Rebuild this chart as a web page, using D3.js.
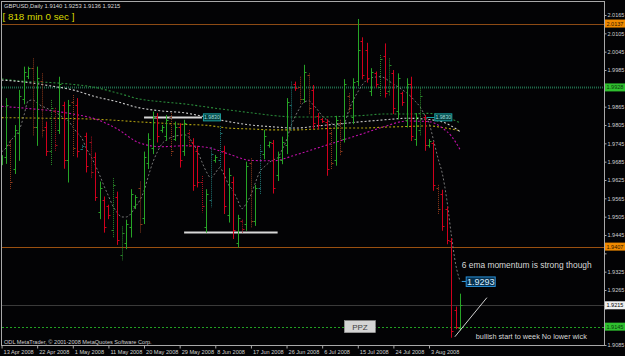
<!DOCTYPE html>
<html><head><meta charset="utf-8">
<script src="https://cdn.jsdelivr.net/npm/d3@7"></script>
<style>html,body{margin:0;padding:0;background:#000;}svg{display:block;}</style>
</head><body><svg id="c" width="625" height="356"></svg>
<script>
// ---------------- DATA ----------------
const symbol = "GBPUSD,Daily";
const lastQuote = [1.9140, 1.9253, 1.9136, 1.9215];
const timerText = "[ 818 min 0 sec ]";
const copyright = "ODL MetaTrader, \u00A9 2001-2008 MetaQuotes Software Corp.";

const opens = [1.9700,1.9740,1.9660,1.9780,1.9890,1.9965,1.9990,1.9800,1.9950,1.9800,
1.9720,1.9850,1.9790,1.9870,1.9690,1.9880,1.9870,1.9728,1.9770,1.9750,
1.9700,1.9520,1.9560,1.9540,1.9460,1.9570,1.9380,1.9420,1.9470,1.9540,
1.9600,1.9500,1.9680,1.9730,1.9830,1.9788,1.9770,1.9830,1.9760,1.9800,
1.9720,1.9780,1.9750,1.9720,1.9620,1.9470,1.9560,1.9690,1.9690,1.9720,
1.9510,1.9620,1.9420,1.9490,1.9480,1.9680,1.9490,1.9600,1.9710,1.9738,
1.9745,1.9640,1.9690,1.9740,1.9870,1.9940,1.9930,1.9890,1.9970,1.9920,
1.9835,1.9826,1.9815,1.9780,1.9690,1.9810,1.9760,1.9900,1.9830,1.9950,
2.0080,2.0050,1.9915,1.9975,1.9930,2.0030,1.9915,1.9975,1.9850,1.9910,
1.9820,1.9940,1.9760,1.9790,1.9830,1.9740,1.9745,1.9600,1.9580,1.9530,
1.9425,1.9200,1.9140];
const highs = [1.9893,1.9756,1.9805,1.9920,1.9996,1.9996,2.0023,1.9996,1.9974,1.9816,
1.9887,1.9861,1.9963,1.9881,1.9887,1.9903,1.9893,1.9740,1.9780,1.9767,
1.9715,1.9620,1.9571,1.9544,1.9631,1.9587,1.9473,1.9495,1.9595,1.9576,
1.9620,1.9718,1.9778,1.9849,1.9844,1.9805,1.9838,1.9844,1.9816,1.9811,
1.9822,1.9789,1.9762,1.9737,1.9638,1.9595,1.9732,1.9707,1.9802,1.9737,
1.9664,1.9636,1.9511,1.9495,1.9685,1.9696,1.9609,1.9740,1.9789,1.9751,
1.9756,1.9718,1.9767,1.9893,1.9947,1.9947,1.9963,2.0002,1.9974,1.9936,
1.9844,1.9828,1.9824,1.9795,1.9835,1.9822,1.9955,1.9909,1.9958,2.0152,
2.0092,2.0074,1.9991,1.9980,2.0034,2.0072,2.0023,1.9985,1.9974,1.9914,
1.9958,1.9963,1.9844,1.9925,1.9838,1.9759,1.9751,1.9609,1.9593,1.9538,
1.9435,1.9211,1.9253];
const lows = [1.9681,1.9599,1.9648,1.9691,1.9876,1.9959,1.9773,1.9740,1.9767,1.9707,
1.9675,1.9724,1.9779,1.9665,1.9620,1.9707,1.9702,1.9724,1.9653,1.9636,
1.9560,1.9500,1.9456,1.9500,1.9440,1.9416,1.9364,1.9402,1.9440,1.9533,
1.9456,1.9484,1.9664,1.9713,1.9751,1.9783,1.9756,1.9707,1.9756,1.9669,
1.9707,1.9734,1.9593,1.9604,1.9522,1.9456,1.9538,1.9685,1.9669,1.9517,
1.9489,1.9435,1.9407,1.9456,1.9462,1.9473,1.9478,1.9582,1.9696,1.9734,
1.9584,1.9625,1.9680,1.9713,1.9789,1.9920,1.9876,1.9881,1.9844,1.9795,
1.9795,1.9815,1.9642,1.9664,1.9675,1.9707,1.9751,1.9849,1.9811,1.9936,
1.9958,1.9947,1.9903,1.9931,1.9903,1.9898,1.9903,1.9844,1.9827,1.9871,
1.9800,1.9756,1.9740,1.9773,1.9724,1.9734,1.9593,1.9517,1.9462,1.9418,
1.9112,1.9140,1.9136];
const closes = [1.9870,1.9620,1.9790,1.9900,1.9980,1.9990,1.9800,1.9960,1.9790,1.9720,
1.9860,1.9740,1.9940,1.9690,1.9870,1.9730,1.9720,1.9736,1.9670,1.9650,
1.9570,1.9600,1.9470,1.9510,1.9610,1.9430,1.9450,1.9480,1.9580,1.9570,
1.9480,1.9700,1.9760,1.9830,1.9770,1.9800,1.9820,1.9720,1.9800,1.9690,
1.9810,1.9740,1.9610,1.9620,1.9540,1.9580,1.9710,1.9700,1.9780,1.9540,
1.9640,1.9460,1.9500,1.9465,1.9670,1.9490,1.9600,1.9720,1.9770,1.9748,
1.9600,1.9700,1.9750,1.9880,1.9930,1.9925,1.9890,1.9980,1.9860,1.9810,
1.9805,1.9818,1.9660,1.9680,1.9820,1.9720,1.9940,1.9860,1.9945,2.0050,
1.9970,1.9960,1.9980,1.9940,2.0020,1.9910,2.0000,1.9860,1.9960,1.9880,
1.9940,1.9770,1.9830,1.9900,1.9740,1.9752,1.9610,1.9530,1.9475,1.9430,
1.9130,1.9145,1.9215];
// bar category: up, down, brown, teal, up-dim, down-dim
const barKinds = ["up","brown","up","up","up","up","brown","up","brown","down",
"upDim","downDim","up","down","up","brown","down","teal","down","downDim",
"down","up","down","down","upDim","down","upDim","up","up","up",
"brown","up","up","up","down","up","up","brown","up","down",
"up","downDim","down","down","downDim","up","teal","up","teal","down",
"up","down","up","downDim","up","brown","up","teal","up","up",
"down","up","up","up","teal","down","brown","up","brown","down",
"down","down","down","brown","up","brown","up","brown","up","up",
"down","down","up","down","upDim","down","upDim","down","up","down",
"up","down","up","upDim","down","up","down","brown","down","down",
"down","down","up"];

// moving averages sampled at bar indices
const maIndex = [-1,0,5,10,15,20,25,30,35,40,45,50,55,60,65,70,75,80,85,90,95,98,100,102];
const maGreen = [1.9956,1.9954,1.9947,1.9944,1.9938,1.9928,1.9910,1.9890,1.9881,1.9874,1.9864,1.9854,1.9845,1.9836,1.9831,1.9831,1.9833,1.9836,1.9841,1.9841,1.9843,1.9835,1.9825,1.9812];
const maWhite = [1.9952,1.9951,1.9944,1.9933,1.9920,1.9898,1.9881,1.9861,1.9851,1.9845,1.9831,1.9816,1.9805,1.9799,1.9795,1.9802,1.9809,1.9816,1.9822,1.9827,1.9823,1.9815,1.9802,1.9783];
const maYellow = [1.9829,1.9829,1.9828,1.9827,1.9826,1.9824,1.9820,1.9815,1.9811,1.9807,1.9804,1.9795,1.9792,1.9789,1.9789,1.9792,1.9795,1.9795,1.9798,1.9800,1.9802,1.9797,1.9792,1.9786];
const maMagenta = [1.9866,1.9865,1.9859,1.9852,1.9841,1.9825,1.9792,1.9746,1.9734,1.9737,1.9732,1.9710,1.9689,1.9688,1.9707,1.9730,1.9753,1.9776,1.9800,1.9818,1.9816,1.9795,1.9769,1.9724];
// 6 EMA, one value per bar from index -1 to 102
const ema6 = [1.9717,1.9730,1.9753,1.9769,1.9789,1.9835,1.9884,1.9887,1.9877,1.9867,
1.9861,1.9854,1.9848,1.9838,1.9828,1.9818,1.9799,1.9779,1.9763,1.9730,
1.9704,1.9675,1.9642,1.9606,1.9573,1.9540,1.9518,1.9504,1.9504,1.9514,
1.9537,1.9557,1.9590,1.9639,1.9684,1.9717,1.9743,1.9756,1.9764,1.9769,
1.9771,1.9773,1.9766,1.9743,1.9720,1.9684,1.9652,1.9632,1.9648,1.9665,
1.9642,1.9609,1.9590,1.9560,1.9531,1.9550,1.9576,1.9616,1.9652,1.9668,
1.9681,1.9691,1.9697,1.9724,1.9756,1.9802,1.9835,1.9861,1.9881,1.9884,
1.9871,1.9854,1.9835,1.9822,1.9812,1.9802,1.9805,1.9812,1.9854,1.9887,
1.9913,1.9936,1.9952,1.9959,1.9962,1.9963,1.9959,1.9949,1.9939,1.9930,
1.9920,1.9910,1.9897,1.9881,1.9864,1.9838,1.9812,1.9756,1.9697,1.9645,
1.9560,1.9446,1.9348,1.9293];

// horizontal levels
const levelPrices = [2.0137, 1.9928, 1.9407, 1.9215, 1.9145];
const levelNames  = ["resistHigh","pivotGreen","supportLow","bid","ppz"];
const trendPrices = [1.9830, 1.9456];
const trendFrom   = [31, 40];
const trendTo     = [44, 61];

const yTickValues = [1.9085,1.9145,1.9205,1.9265,1.9325,1.9385,1.9445,1.9505,1.9565,1.9625,1.9685,1.9745,1.9805,1.9865,1.9925,1.9985,2.0045,2.0105,2.0165];
const dateTickIndex = [-1,7,15,23,31,39,47,55,63,71,79,87,95];
const dateTickLabels = ["13 Apr 2008","22 Apr 2008","1 May 2008","11 May 2008","20 May 2008","29 May 2008","8 Jun 2008","17 Jun 2008","26 Jun 2008","6 Jul 2008","15 Jul 2008","24 Jul 2008","3 Aug 2008"];

const noteEma = "6 ema momentum is strong though";
const noteEmaValue = 1.9293;
const noteBull = "bullish start to week No lower wick";
const notePPZ = "PPZ";

// ---------------- CHART ----------------
const svg = d3.select("#c");
const W = 625, H = 356;
const L = 2, R = 604, T = 1, B = 345;
const FONT = "'Liberation Sans', Arial, sans-serif";

svg.append("rect").attr("width", W).attr("height", H).attr("fill", "#030305");

const x = d3.scaleLinear().domain([0, 102]).range([6, 460.2]);
const y = d3.scaleLinear().domain([1.9085, 2.0165]).range([345, 15]);

svg.append("clipPath").attr("id", "plot").append("rect")
  .attr("x", L).attr("y", T).attr("width", R - L).attr("height", B - T);
const g = svg.append("g").attr("clip-path", "url(#plot)");

const px = v => Math.round(v) + 0.5;

// horizontal levels
const levelStyle = {
  resistHigh: {stroke: "#8c4a14", w: 1.2, dash: null, box: "#f08a00", text: "#2a1400"},
  pivotGreen: {stroke: "#1f6a4a", w: 2, dash: "1,1", box: "#2fc02f", text: "#0a3a0a"},
  supportLow: {stroke: "#9a5010", w: 1.2, dash: null, box: "#f08a00", text: "#2a1400"},
  bid:        {stroke: "#3a3a3a", w: 1, dash: null, box: "#f0f0f0", text: "#000"},
  ppz:        {stroke: "#22a022", w: 1, dash: "2,2", box: "#2fc02f", text: "#0a3a0a"}
};
levelPrices.forEach((p, i) => {
  const s = levelStyle[levelNames[i]];
  g.append("line").attr("x1", L).attr("x2", R).attr("y1", px(y(p))).attr("y2", px(y(p)))
    .attr("stroke", s.stroke).attr("stroke-width", s.w).attr("stroke-dasharray", s.dash);
});

// moving averages
const maLine = d3.line().x(d => x(d[0])).y(d => y(d[1])).curve(d3.curveMonotoneX);
const maDefs = [[maYellow, "#b0a010"], [maGreen, "#2a8a3a"], [maWhite, "#c8c8c8"], [maMagenta, "#c010a8"]];
maDefs.forEach(([vals, col]) => {
  g.append("path").datum(maIndex.map((k, j) => [k, vals[j]])).attr("d", maLine)
    .attr("fill", "none").attr("stroke", col).attr("stroke-width", 1.1).attr("stroke-dasharray", "2,2");
});

// 6 ema
g.append("path").datum(ema6.map((v, j) => [j - 1, v])).attr("d", maLine)
  .attr("fill", "none").attr("stroke", "#777").attr("stroke-width", 1).attr("stroke-dasharray", "2,2");

// white trend segments
trendPrices.forEach((p, i) => {
  g.append("line").attr("x1", x(trendFrom[i])).attr("x2", x(trendTo[i]))
    .attr("y1", px(y(p))).attr("y2", px(y(p)))
    .attr("stroke", "#d8d8d8").attr("stroke-width", 2);
});
// teal price boxes on the 1.9830 level
function tealBox(xl, p) {
  const yy = y(p);
  g.append("rect").attr("x", xl).attr("y", yy - 3.5).attr("width", 17).attr("height", 7)
    .attr("fill", "#063c3c").attr("stroke", "#19a0a0").attr("stroke-width", 1);
  g.append("text").attr("x", xl + 8.5).attr("y", yy + 2).attr("text-anchor", "middle")
    .attr("font-family", FONT).attr("font-size", 5.2).attr("fill", "#9ee0e0").text(p.toFixed(4));
}
tealBox(x(trendTo[0]) + 1.5, trendPrices[0]);
g.append("line").attr("x1", x(94.5)).attr("x2", x(96.3)).attr("y1", px(y(trendPrices[0]))).attr("y2", px(y(trendPrices[0])))
  .attr("stroke", "#19a0a0").attr("stroke-width", 1);
tealBox(x(96.3), trendPrices[0]);

// small left-edge label
g.append("rect").attr("x", 0).attr("y", y(1.9690) - 5).attr("width", 3).attr("height", 10).attr("fill", "#2f9f2f");

// OHLC bars
const kindColor = {up: "#26a426", down: "#d0001c", brown: "#8e3a1c", teal: "#1f7474", upDim: "#2a8a2a", downDim: "#a8101e"};
const kindDash = {up: null, down: null, brown: "1,1", teal: "1,1", upDim: "1,1", downDim: "1,1"};
const bars = g.append("g");
opens.forEach((o, i) => {
  const k = barKinds[i], col = kindColor[k], xi = px(x(i));
  bars.append("line").attr("x1", xi).attr("x2", xi).attr("y1", y(highs[i])).attr("y2", y(lows[i]) + 1)
    .attr("stroke", col).attr("stroke-width", 1).attr("stroke-dasharray", kindDash[k]);
  bars.append("line").attr("x1", xi - 2).attr("x2", xi).attr("y1", px(y(o))).attr("y2", px(y(o)))
    .attr("stroke", col).attr("stroke-width", 1);
  bars.append("line").attr("x1", xi).attr("x2", xi + 2).attr("y1", px(y(closes[i]))).attr("y2", px(y(closes[i])))
    .attr("stroke", col).attr("stroke-width", 1);
});

// annotations
const last = opens.length - 1;
g.append("line").attr("x1", x(100.8)).attr("y1", y(1.9112)).attr("x2", x(108)).attr("y2", y(1.9240))
  .attr("stroke", "#d0d0d0").attr("stroke-width", 1);
g.append("text").attr("x", x(last) + 1.5).attr("y", y(1.9325) - 4).attr("font-family", FONT)
  .attr("font-size", 8.2).attr("fill", "#d8d8d8").attr("textLength", 130).attr("lengthAdjust", "spacingAndGlyphs").text(noteEma);
g.append("line").attr("x1", x(last) + 1.5).attr("x2", x(last) + 6).attr("y1", y(noteEmaValue)).attr("y2", y(noteEmaValue))
  .attr("stroke", "#3aa0e0").attr("stroke-width", 1);
g.append("rect").attr("x", x(last) + 6).attr("y", y(noteEmaValue) - 4.5).attr("width", 29).attr("height", 9.5)
  .attr("fill", "#06304e").attr("stroke", "#2a90d8").attr("stroke-width", 1);
g.append("text").attr("x", x(last) + 20.5).attr("y", y(noteEmaValue) + 3.5).attr("text-anchor", "middle")
  .attr("font-family", FONT).attr("font-size", 9).attr("fill", "#d8ecff").text(noteEmaValue.toFixed(4));
g.append("text").attr("x", x(105.5)).attr("y", 339).attr("font-family", FONT)
  .attr("font-size", 7.6).attr("fill", "#d8d8d8").attr("textLength", 111).attr("lengthAdjust", "spacingAndGlyphs").text(noteBull);
// PPZ box
g.append("rect").attr("x", x(76)).attr("y", y(1.9145) - 6).attr("width", 31).attr("height", 12)
  .attr("fill", "#d4d4d4").attr("stroke", "#9a9a9a").attr("stroke-width", 0.6);
g.append("text").attr("x", x(76) + 15.5).attr("y", y(1.9145) + 3).attr("text-anchor", "middle")
  .attr("font-family", FONT).attr("font-size", 8).attr("fill", "#404040").text(notePPZ);

// frame
const frame = svg.append("g").attr("stroke", "#a8a8a8").attr("stroke-width", 1);
frame.append("line").attr("x1", L).attr("x2", R + 1).attr("y1", 1.5).attr("y2", 1.5);
frame.append("line").attr("x1", 1.5).attr("x2", 1.5).attr("y1", 1).attr("y2", B + 1);
frame.append("line").attr("x1", L).attr("x2", R + 1).attr("y1", B + 0.5).attr("y2", B + 0.5);

// right axis (labels hidden where a level box covers them, as in the reference)
const covered = v => levelPrices.some(p => Math.abs(y(p) - y(v)) < 7);
const yAxis = d3.axisRight(y).tickValues(yTickValues)
  .tickFormat(v => covered(v) ? "" : d3.format(".4f")(v)).tickSize(2).tickPadding(1);
const ya = svg.append("g").attr("transform", `translate(${R + 0.5},0)`).call(yAxis);
ya.select(".domain").attr("stroke", "#a8a8a8").attr("d", `M0,1V${B + 1}`);
ya.selectAll(".tick line").attr("stroke", "#a8a8a8");
ya.selectAll(".tick text").attr("font-family", FONT).attr("font-size", 5.5).attr("fill", "#d0d0d0");

// level boxes on axis
levelPrices.forEach((p, i) => {
  const s = levelStyle[levelNames[i]];
  svg.append("rect").attr("x", R + 1).attr("y", y(p) - 4).attr("width", 20).attr("height", 8).attr("fill", s.box);
  svg.append("text").attr("x", R + 2.5).attr("y", y(p) + 2).attr("font-family", FONT).attr("font-size", 5.5)
    .attr("fill", s.text).text(p.toFixed(4));
});

// bottom axis
const xAxis = d3.axisBottom(x).tickValues(dateTickIndex).tickFormat((d, i) => dateTickLabels[i]).tickSize(3).tickPadding(2);
const xa = svg.append("g").attr("transform", `translate(0,${B + 0.5})`).call(xAxis);
xa.select(".domain").remove();
xa.selectAll(".tick line").attr("stroke", "#a8a8a8");
xa.selectAll(".tick text").attr("text-anchor", "start").attr("dx", 1.5).attr("font-family", FONT)
  .attr("font-size", 5.6).attr("fill", "#d0d0d0");

// header texts
svg.append("text").attr("x", 4).attr("y", 8).attr("font-family", FONT).attr("font-size", 5.8).attr("fill", "#d8d8d8")
  .text(symbol + "  " + lastQuote.map(v => v.toFixed(4)).join(" "));
svg.append("text").attr("x", 2.5).attr("y", 20).attr("font-family", FONT).attr("font-size", 9.8).attr("fill", "#d8d800")
  .text(timerText);
svg.append("text").attr("x", 4).attr("y", 343.5).attr("font-family", FONT).attr("font-size", 5.6).attr("fill", "#d0d0d0")
  .text(copyright);
</script></body></html>
